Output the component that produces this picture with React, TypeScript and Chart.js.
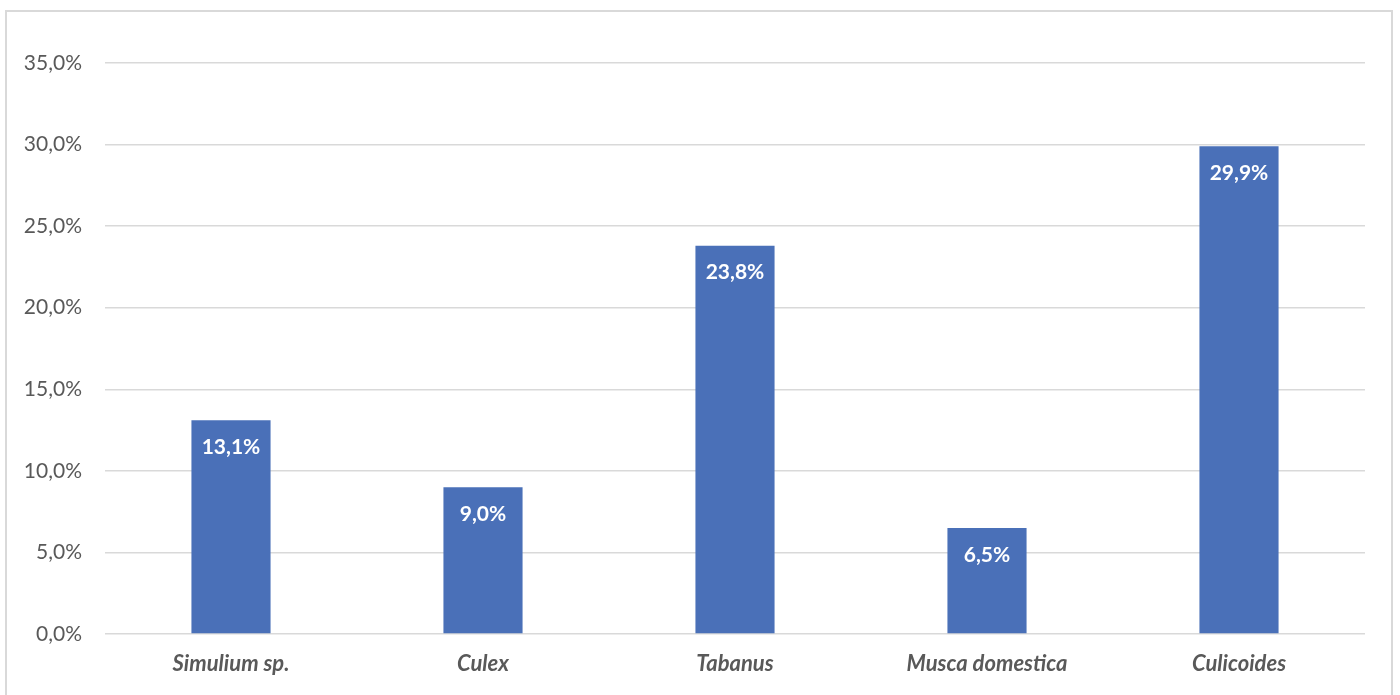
import React, { useEffect, useRef } from "react";
import { Chart, registerables } from "chart.js";

Chart.register(...registerables);

const categories = ["Simulium sp.", "Culex", "Tabanus", "Musca domestica", "Culicoides"];
const values = [13.1, 9.0, 23.8, 6.5, 29.9];
const yTicks = [0, 5, 10, 15, 20, 25, 30, 35];

const fmt = (v: number) => v.toFixed(1).replace(".", ",") + "%";
const FONT = "Lato, 'Open Sans', sans-serif";

const labelPlugin = {
  id: "barLabels",
  afterDatasetsDraw(chart: any) {
    const ctx = chart.ctx;
    const meta = chart.getDatasetMeta(0);
    ctx.save();
    ctx.fillStyle = "#ffffff";
    ctx.font = `bold 21px ${FONT}`;
    ctx.textAlign = "center";
    ctx.textBaseline = "middle";
    meta.data.forEach((bar: any, i: number) => {
      ctx.fillText(fmt(values[i]), bar.x, bar.y + 27);
    });
    ctx.restore();
  },
};

export default function App() {
  const ref = useRef<HTMLCanvasElement | null>(null);
  useEffect(() => {
    if (!ref.current) return;
    const chart = new Chart(ref.current, {
      type: "bar",
      data: {
        labels: categories,
        datasets: [
          {
            data: values,
            backgroundColor: "#4A70B8",
            borderWidth: 0,
            categoryPercentage: 1,
            barPercentage: 0.314,
          },
        ],
      },
      options: {
        animation: false,
        responsive: false,
        maintainAspectRatio: false,
        layout: { padding: { left: 0, right: 35, top: 63, bottom: 0 } },
        plugins: { legend: { display: false }, tooltip: { enabled: false } },
        scales: {
          x: {
            grid: { display: false, drawTicks: false },
            border: { display: false },
            ticks: {
              color: "#595959",
              font: { family: FONT, size: 22, style: "italic", weight: "bold" },
              padding: 17,
            },
            afterFit: (s: any) => {
              s.height = 61;
            },
          },
          y: {
            min: 0,
            max: 35,
            afterBuildTicks: (s: any) => {
              s.ticks = yTicks.map((v) => ({ value: v }));
            },
            grid: { color: "#d9d9d9", lineWidth: 1.5, drawTicks: false },
            border: { display: false },
            ticks: {
              color: "#595959",
              font: { family: FONT, size: 21 },
              padding: 23,
              callback: (v: any) => fmt(Number(v)),
            },
            afterFit: (s: any) => {
              s.width = 105;
            },
          },
        },
      },
      plugins: [labelPlugin],
    });
    return () => chart.destroy();
  }, []);
  return (
    <div style={{ position: "absolute", left: 0, top: 0, width: 1400, height: 695, overflow: "hidden", background: "#fff" }}>
      <div
        style={{
          position: "absolute",
          left: 5,
          top: 10,
          width: 1384,
          height: 700,
          border: "2.5px solid #d9d9d9",
        }}
      />
      <canvas ref={ref} width={1400} height={695} style={{ position: "absolute", left: 0, top: 0, width: 1400, height: 695 }} />
    </div>
  );
}
